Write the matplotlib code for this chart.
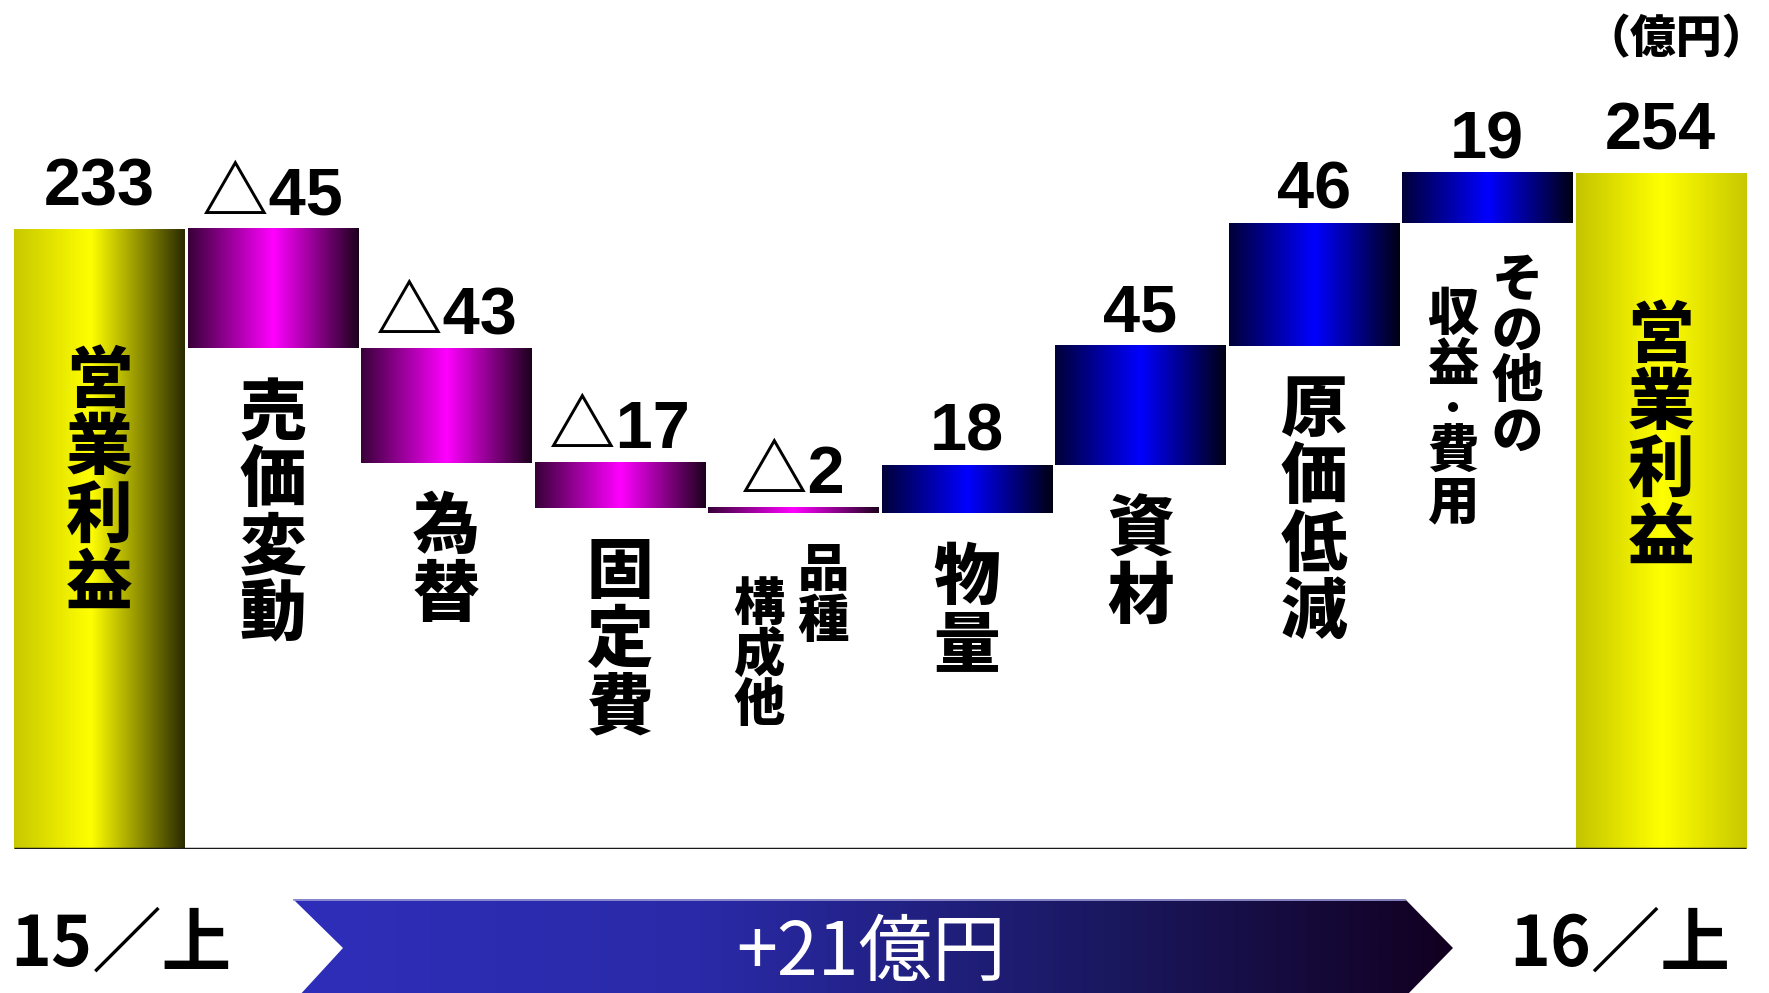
import numpy as np
import matplotlib
matplotlib.use("Agg")
import matplotlib.pyplot as plt
from matplotlib.colors import LinearSegmentedColormap
from matplotlib.patches import Polygon


# ============================================================
# Data (億円)
# ============================================================

CATEGORIES = [
    "営業利益", "売価変動", "為替", "固定費", "品種構成他",
    "物量", "資材", "原価低減", "その他の収益・費用", "営業利益",
]
VALUES = [233, -45, -43, -17, -2, 18, 45, 46, 19, 254]
IS_TOTAL = [True, False, False, False, False, False, False, False, False, True]

# long labels are set in two vertical columns, right column first
LABEL_COLUMNS = {4: ["品種", "構成他"], 8: ["その他の", "収益・費用"]}

PERIODS = ["15／上", "16／上"]
UNIT = "（億円）"


# ============================================================
# Style
# ============================================================

W_PX, H_PX = 1769, 993
DPI = 100

CJK = ["Noto Sans CJK JP", "DejaVu Sans"]
NUM = ["Liberation Sans Narrow", "Liberation Sans", "Noto Sans CJK JP"]

GRAD_TOTAL_LEFT = [(0.0, "#c8c800"), (0.45, "#ffff00"), (1.0, "#2a2a00")]
GRAD_TOTAL_RIGHT = [(0.0, "#c4c400"), (0.5, "#ffff00"), (1.0, "#c8c800")]
GRAD_DOWN = [(0.0, "#380038"), (0.5, "#ff00ff"), (1.0, "#1c001c")]
GRAD_UP = [(0.0, "#000038"), (0.5, "#0000ff"), (1.0, "#000014")]
GRAD_ARROW = [(0.0, "#2e2eba"), (0.35, "#2a2aa8"), (0.7, "#1a1860"), (1.0, "#120020")]

BAR_WIDTH = 0.98
LABEL_SIZE = 48
LABEL_PITCH = 48.5      # points between character baselines
SMALL_SIZE = 37
SMALL_PITCH = 36.5
DOT_SHARE = 0.72        # a middle dot only takes part of a line
DOT_SCALE = 0.7
HEAVY = 900


def gradient(stops, n=256):
    cmap = LinearSegmentedColormap.from_list("g", stops)
    return cmap(np.linspace(0, 1, n))[None, :, :3]


def vertical_text(ax, text, x, y, dx, dy, size, pitch, **kw):
    # one glyph per slot, stacked downward from (x, y) + offset
    top = dy
    for ch in text:
        if ch == "・":
            step = pitch * DOT_SHARE
            fs = size * DOT_SCALE
            base = top - step / 2 - 0.38 * fs
        else:
            step = pitch
            fs = size
            base = top - 0.83 * size
        ax.annotate(
            ch, xy=(x, y),
            xytext=(dx, base),
            textcoords="offset points",
            ha="center", va="baseline",
            fontsize=fs, fontweight=HEAVY, family=CJK, **kw,
        )
        top -= step


def main():
    plt.rcParams["font.family"] = CJK

    # waterfall extents
    bottoms, tops = [], []
    level = 0
    for v, total in zip(VALUES, IS_TOTAL):
        if total:
            bottoms.append(0)
            tops.append(v)
            level = v
        else:
            new = level + v
            bottoms.append(min(level, new))
            tops.append(max(level, new))
            level = new

    n = len(VALUES)
    fig = plt.figure(figsize=(W_PX / DPI, H_PX / DPI), dpi=DPI)
    ax = fig.add_axes([0, 0.1455, 1, 0.8545])
    ax.axis("off")

    for i in range(n):
        if IS_TOTAL[i]:
            stops = GRAD_TOTAL_LEFT if i == 0 else GRAD_TOTAL_RIGHT
        else:
            stops = GRAD_DOWN if VALUES[i] < 0 else GRAD_UP
        x0 = i - BAR_WIDTH / 2
        x1 = i + BAR_WIDTH / 2
        ax.imshow(
            gradient(stops),
            extent=(x0, x1, bottoms[i], tops[i]),
            aspect="auto", interpolation="bilinear", zorder=1,
        )

        # value above the bar
        if IS_TOTAL[i]:
            label, gap = f"{VALUES[i]}", 16.5
        else:
            label = f"△{-VALUES[i]}" if VALUES[i] < 0 else f"{VALUES[i]}"
            gap = 10.5
        ax.annotate(
            label, xy=(i, tops[i]), xytext=(0, gap),
            textcoords="offset points", ha="center", va="baseline",
            fontsize=48, fontweight="bold", family=NUM,
        )

        # category name written vertically
        if IS_TOTAL[i]:
            vertical_text(ax, CATEGORIES[i], i, 0.81 * VALUES[i], 0, 0,
                          LABEL_SIZE, LABEL_PITCH)
        elif i in LABEL_COLUMNS:
            right, left = LABEL_COLUMNS[i]
            vertical_text(ax, right, i, bottoms[i], 21.6, -21.6,
                          SMALL_SIZE, SMALL_PITCH)
            vertical_text(ax, left, i, bottoms[i], -24.5, -46.0,
                          SMALL_SIZE, SMALL_PITCH)
        else:
            vertical_text(ax, CATEGORIES[i], i, bottoms[i], 0, -21.6,
                          LABEL_SIZE, LABEL_PITCH)

    ax.hlines(0, -BAR_WIDTH / 2, n - 1 + BAR_WIDTH / 2,
              color="#1a1a1a", linewidth=2.5, zorder=3)

    ax.set_xlim(-0.572, 9.624)
    ax.set_ylim(0, 319)

    # period arrow along the bottom, in pixel coordinates
    over = fig.add_axes([0, 0, 1, 1], zorder=5)
    over.axis("off")
    over.set_xlim(0, W_PX)
    over.set_ylim(H_PX, 0)

    arrow = Polygon(
        [(293, 899), (1405, 899), (1453, 948), (1405, 997), (298, 997), (343, 948)],
        closed=True, facecolor="none", edgecolor="none",
    )
    over.add_patch(arrow)
    img = over.imshow(
        gradient(GRAD_ARROW),
        extent=(293, 1453, 997, 899), aspect="auto", interpolation="bilinear",
    )
    img.set_clip_path(arrow)
    over.plot([294, 1405], [899.5, 899.5], color="#9a9ad6", linewidth=1.2)

    change = VALUES[-1] - VALUES[0]
    over.text(871, 954, f"{change:+d}億円", color="white", fontsize=53,
              ha="center", va="center",
              family=["Liberation Sans Narrow", "Noto Sans CJK JP"])

    over.text(121, 945, PERIODS[0], fontsize=50, fontweight="bold",
              ha="center", va="center")
    over.text(1620, 945, PERIODS[1], fontsize=50, fontweight="bold",
              ha="center", va="center")

    over.text(1768, 40, UNIT, fontsize=33, fontweight=HEAVY,
              ha="right", va="center")

    fig.savefig("out.png", dpi=DPI)
    plt.close(fig)


if __name__ == "__main__":
    main()
